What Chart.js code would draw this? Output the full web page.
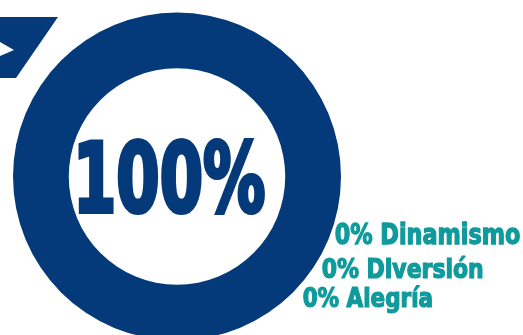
<!DOCTYPE html>
<html>
<head>
<meta charset="utf-8">
<script src="https://cdn.jsdelivr.net/npm/chart.js@4/dist/chart.umd.min.js"></script>
<style>
  html, body { margin: 0; padding: 0; background: #ffffff; overflow: hidden; width: 523px; height: 335px; }
  #wrap { position: absolute; left: 0; top: 0; width: 523px; height: 360px; }
  #badge {
    position: absolute; left: 0; top: 17px; width: 59px; height: 61px; background: #04397a;
    clip-path: polygon(0px 0px, 58px 0px, 16px 61px, 0px 61px, 0px 39px, 14px 33px, 0px 25px);
  }
</style>
</head>
<body>
<div id="wrap"><canvas id="chart" width="523" height="360"></canvas></div>
<div id="badge"></div>
<script>
// Overall share shown in the ring, and the three category shares listed beside it
const overall = 100;
const overallLabel = 'General';
const categories = ['Dinamismo', 'Diversión', 'Alegría'];
const shares = [0, 0, 0];

const NAVY = '#04397a';
const TEAL = '#0f9a9c';
const FONT = '"Liberation Sans Narrow", "DejaVu Sans Condensed", "Liberation Sans", sans-serif';

function sizeFor(ctx, capHeight) {
  ctx.font = 'bold 100px ' + FONT;
  const cap = ctx.measureText('0').actualBoundingBoxAscent;
  return 100 * capHeight / cap;
}

// Draws heavy bold text squeezed horizontally to a cap height and ink width
function fitText(ctx, text, left, baseline, capHeight, width, weight) {
  const size = sizeFor(ctx, capHeight - weight);
  ctx.font = 'bold ' + size + 'px ' + FONT;
  const m = ctx.measureText(text);
  const ink = m.actualBoundingBoxLeft + m.actualBoundingBoxRight;
  const sx = (width - weight) / ink;
  ctx.save();
  ctx.translate(left + weight / 2, baseline - weight / 2);
  ctx.scale(sx, 1);
  ctx.textAlign = 'left';
  ctx.textBaseline = 'alphabetic';
  ctx.lineJoin = 'miter';
  ctx.miterLimit = 2;
  ctx.lineWidth = weight / sx;
  ctx.strokeStyle = ctx.fillStyle;
  ctx.fillText(text, m.actualBoundingBoxLeft, 0);
  ctx.strokeText(text, m.actualBoundingBoxLeft, 0);
  ctx.restore();
}

const ringText = {
  id: 'ringText',
  afterDraw(chart, args, opts) {
    const ctx = chart.ctx;
    const arc = chart.getDatasetMeta(0).data[0];
    const cx = arc.x, cy = arc.y;

    // Centre value
    ctx.fillStyle = NAVY;
    fitText(ctx, overall + '%', cx + opts.centreDx - opts.centreWidth / 2, cy + opts.centreDy,
      opts.centreCap, opts.centreWidth, opts.centreWeight);

    // Category lines beside the ring
    ctx.fillStyle = TEAL;
    categories.forEach((c, i) => {
      fitText(ctx, shares[i] + '% ' + c, cx + opts.lineDx[i], cy + opts.lineDy[i],
        opts.lineCaps[i], opts.lineWidths[i], opts.lineWeight);
    });
  }
};

new Chart(document.getElementById('chart'), {
  type: 'doughnut',
  data: {
    labels: [overallLabel, ...categories],
    datasets: [{
      data: [overall, ...shares],
      backgroundColor: [NAVY, TEAL, TEAL, TEAL],
      borderWidth: 0,
      hoverOffset: 0
    }]
  },
  options: {
    responsive: false,
    animation: false,
    cutout: '66%',
    layout: { padding: { left: 13, top: 12.5, right: 182, bottom: 19.5 } },
    events: [],
    plugins: {
      legend: { display: false },
      tooltip: { enabled: false },
      ringText: {
        centreCap: 75, centreWidth: 187, centreDx: -5.5, centreDy: 36.5, centreWeight: 3,
        lineCaps: [23, 21.5, 20.5],
        lineWidths: [185, 161, 129],
        lineDx: [158, 145, 126],
        lineDy: [68.5, 101.8, 130.8],
        lineWeight: 1.1
      }
    }
  },
  plugins: [ringText]
});
</script>
</body>
</html>
